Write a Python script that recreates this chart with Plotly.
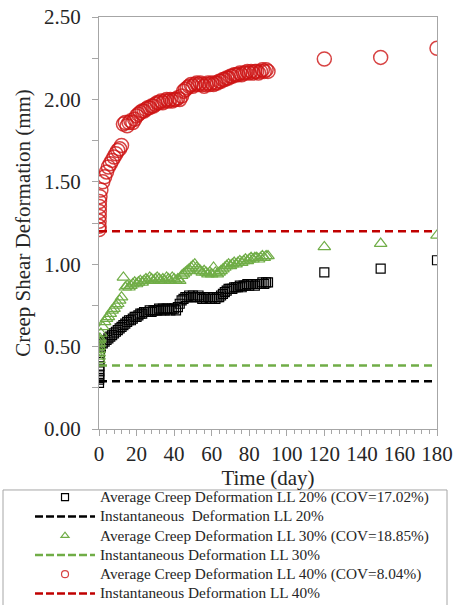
import plotly.graph_objects as go

# ---- data ----
time_days = [0, 0.04, 0.08, 0.125, 0.17, 0.21, 0.25, 0.5,
             1, 2, 3, 4, 5, 6, 7, 8, 9, 10,
             11, 12, 13, 14, 15, 16, 17, 18, 19, 20,
             21, 22, 23, 24, 25, 26, 27, 28, 29, 30,
             31, 32, 33, 34, 35, 36, 37, 38, 39, 40,
             41, 42, 43, 44, 45, 46, 47, 48, 49, 50,
             51, 52, 53, 54, 55, 56, 57, 58, 59, 60,
             61, 62, 63, 64, 65, 66, 67, 68, 69, 70,
             71, 72, 73, 74, 75, 76, 77, 78, 79, 80,
             81, 82, 83, 84, 85, 86, 87, 88, 89, 90,
             120, 150, 180]

creep_ll20 = [0.28, 0.30, 0.31, 0.33, 0.35, 0.38, 0.42, 0.46,
              0.50, 0.52, 0.53, 0.54, 0.55, 0.56, 0.57, 0.58, 0.59, 0.60,
              0.61, 0.62, 0.63, 0.64, 0.65, 0.66, 0.66, 0.67, 0.68, 0.68,
              0.69, 0.70, 0.70, 0.71, 0.71, 0.71, 0.72, 0.71, 0.72, 0.72,
              0.72, 0.73, 0.72, 0.73, 0.72, 0.73, 0.73, 0.72, 0.73, 0.73,
              0.72, 0.74, 0.76, 0.78, 0.79, 0.80, 0.80, 0.81, 0.80, 0.81,
              0.80, 0.80, 0.81, 0.80, 0.79, 0.80, 0.79, 0.80, 0.79, 0.79,
              0.80, 0.79, 0.80, 0.80, 0.81, 0.82, 0.83, 0.84, 0.85, 0.85,
              0.85, 0.86, 0.86, 0.86, 0.87, 0.86, 0.87, 0.87, 0.88, 0.87,
              0.88, 0.88, 0.87, 0.88, 0.88, 0.88, 0.89, 0.88, 0.89, 0.89,
              0.95, 0.973, 1.024]

creep_ll30 = [0.42, 0.44, 0.46, 0.48, 0.50, 0.52, 0.54, 0.55,
              0.58, 0.62, 0.65, 0.67, 0.68, 0.70, 0.72, 0.73, 0.75, 0.76,
              0.78, 0.80, 0.92, 0.86, 0.87, 0.86, 0.87, 0.88, 0.89, 0.88,
              0.89, 0.90, 0.89, 0.90, 0.91, 0.90, 0.92, 0.91, 0.90, 0.91,
              0.92, 0.91, 0.90, 0.91, 0.90, 0.92, 0.91, 0.90, 0.92, 0.91,
              0.90, 0.91, 0.90, 0.93, 0.94, 0.95, 0.96, 0.97, 0.98, 0.99,
              1.00, 0.98, 0.97, 0.96, 0.95, 0.96, 0.95, 0.94, 0.95, 0.94,
              0.98, 0.95, 0.94, 0.95, 0.96, 0.97, 0.98, 0.99, 1.00, 0.99,
              1.00, 1.01, 1.00, 1.01, 1.02, 1.01, 1.02, 1.03, 1.02, 1.03,
              1.04, 1.03, 1.04, 1.04, 1.03, 1.04, 1.05, 1.04, 1.05, 1.05,
              1.105, 1.125, 1.175]

creep_ll40 = [1.21, 1.23, 1.26, 1.29, 1.32, 1.35, 1.38, 1.41,
              1.45, 1.50, 1.53, 1.56, 1.59, 1.61, 1.63, 1.65, 1.67, 1.69,
              1.70, 1.72, 1.85, 1.86, 1.84, 1.86, 1.87, 1.86, 1.88, 1.90,
              1.91, 1.92, 1.93, 1.93, 1.94, 1.95, 1.95, 1.96, 1.96, 1.97,
              1.98, 1.98, 1.99, 1.98, 1.99, 2.00, 1.99, 2.00, 1.99, 2.00,
              2.00, 2.01, 2.00, 2.02, 2.05, 2.06, 2.07, 2.08, 2.09, 2.08,
              2.09, 2.10, 2.09, 2.10, 2.09, 2.08, 2.09, 2.10, 2.09, 2.10,
              2.09, 2.10, 2.10, 2.11, 2.11, 2.12, 2.12, 2.13, 2.13, 2.14,
              2.14, 2.15, 2.15, 2.15, 2.16, 2.15, 2.16, 2.16, 2.17, 2.16,
              2.17, 2.16, 2.17, 2.17, 2.16, 2.17, 2.18, 2.17, 2.18, 2.17,
              2.245, 2.255, 2.31]

inst_x = [0, 180]
inst_ll20 = 0.29
inst_ll30 = 0.385
inst_ll40 = 1.20

names = ["Average Creep Deformation LL 20% (COV=17.02%)",
         "Instantaneous  Deformation LL 20%",
         "Average Creep Deformation LL 30% (COV=18.85%)",
         "Instantaneous Deformation LL 30%",
         "Average Creep Deformation LL 40% (COV=8.04%)",
         "Instantaneous Deformation LL 40%"]

BLACK = "#000000"
GREEN = "#70AD47"
RED = "#C00000"
RED_M = "rgba(205,20,20,0.8)"
AXC = "#A6A6A6"
TXT = "#262626"
FONT = "Liberation Serif"

fig = go.Figure()

# data traces (no legend)
fig.add_trace(go.Scatter(x=time_days, y=creep_ll20, mode="markers", showlegend=False,
                         marker=dict(symbol="square-open", size=9, color=BLACK, line=dict(width=1.2))))
fig.add_trace(go.Scatter(x=inst_x, y=[inst_ll20] * 2, mode="lines", showlegend=False,
                         line=dict(color=BLACK, width=2.5, dash="8px,5px")))
fig.add_trace(go.Scatter(x=time_days, y=creep_ll30, mode="markers", showlegend=False,
                         marker=dict(symbol="triangle-up-open", size=11, color=GREEN, line=dict(width=1.2))))
fig.add_trace(go.Scatter(x=inst_x, y=[inst_ll30] * 2, mode="lines", showlegend=False,
                         line=dict(color=GREEN, width=2.5, dash="8px,5px")))
fig.add_trace(go.Scatter(x=time_days, y=creep_ll40, mode="markers", showlegend=False,
                         marker=dict(symbol="circle-open", size=14, color=RED_M, line=dict(width=1.5))))
fig.add_trace(go.Scatter(x=inst_x, y=[inst_ll40] * 2, mode="lines", showlegend=False,
                         line=dict(color=RED, width=2.5, dash="8px,5px")))

# legend entries
leg_styles = [
    dict(mode="markers", marker=dict(symbol="square-open", size=7, color=BLACK, line=dict(width=1.2))),
    dict(mode="lines", line=dict(color=BLACK, width=2.5, dash="8px,3px")),
    dict(mode="markers", marker=dict(symbol="triangle-up-open", size=7, color=GREEN, line=dict(width=1.2))),
    dict(mode="lines", line=dict(color=GREEN, width=2.5, dash="8px,3px")),
    dict(mode="markers", marker=dict(symbol="circle-open", size=7, color=RED_M, line=dict(width=1.2))),
    dict(mode="lines", line=dict(color=RED, width=2.5, dash="8px,3px")),
]
for nm, st in zip(names, leg_styles):
    fig.add_trace(go.Scatter(x=[None], y=[None],
                             name='<span style="font-size:15.3px">' + nm + '</span>', **st))

axis_common = dict(showline=True, linecolor=AXC, linewidth=1, mirror=True,
                   ticks="outside", tickcolor=AXC, ticklen=6, showgrid=False,
                   zeroline=False, automargin=False, ticklabeloverflow="allow",
                   tickfont=dict(family=FONT, size=21, color=TXT))

fig.update_xaxes(range=[0, 180], tick0=0, dtick=20, ticklabelstandoff=0,
                 minor=dict(dtick=4, ticks="outside", ticklen=4, tickcolor=AXC),
                 title=dict(text="Time (day)", font=dict(family=FONT, size=21, color=TXT), standoff=0),
                 **axis_common)
fig.update_yaxes(range=[0, 2.5], tick0=0, dtick=0.5, tickformat=".2f", ticklabelstandoff=7,
                 minor=dict(dtick=0.25, ticks="outside", ticklen=6, tickcolor=AXC),
                 title=dict(text="Creep Shear Deformation (mm)", font=dict(family=FONT, size=21, color=TXT), standoff=7),
                 **axis_common)

# legend frame (box spans wider than the legend entries, as in the original)
fig.add_shape(type="rect", xref="paper", yref="paper",
              x0=-0.284, x1=1.0296, y0=-0.148, y1=-0.46,
              line=dict(color=AXC, width=1), fillcolor="rgba(0,0,0,0)")

fig.update_layout(
    width=457, height=605,
    margin=dict(l=99, r=20, t=17, b=176, autoexpand=False),
    paper_bgcolor="white", plot_bgcolor="white",
    font=dict(family=FONT, color=TXT),
    legend=dict(x=-0.2041, y=-0.1299, xanchor="left", yanchor="top",
                borderwidth=0, bgcolor="rgba(0,0,0,0)",
                font=dict(family=FONT, size=12.5, color=TXT),
                itemwidth=60, tracegroupgap=0),
)

# remove the page's default body margin / scrollbars so the figure fills the window
page_css = ("document.body.style.margin='0';"
            "document.body.style.overflow='hidden';"
            "document.documentElement.style.overflow='hidden';")
fig.write_html("out.html", post_script=page_css, config={"displayModeBar": False})
